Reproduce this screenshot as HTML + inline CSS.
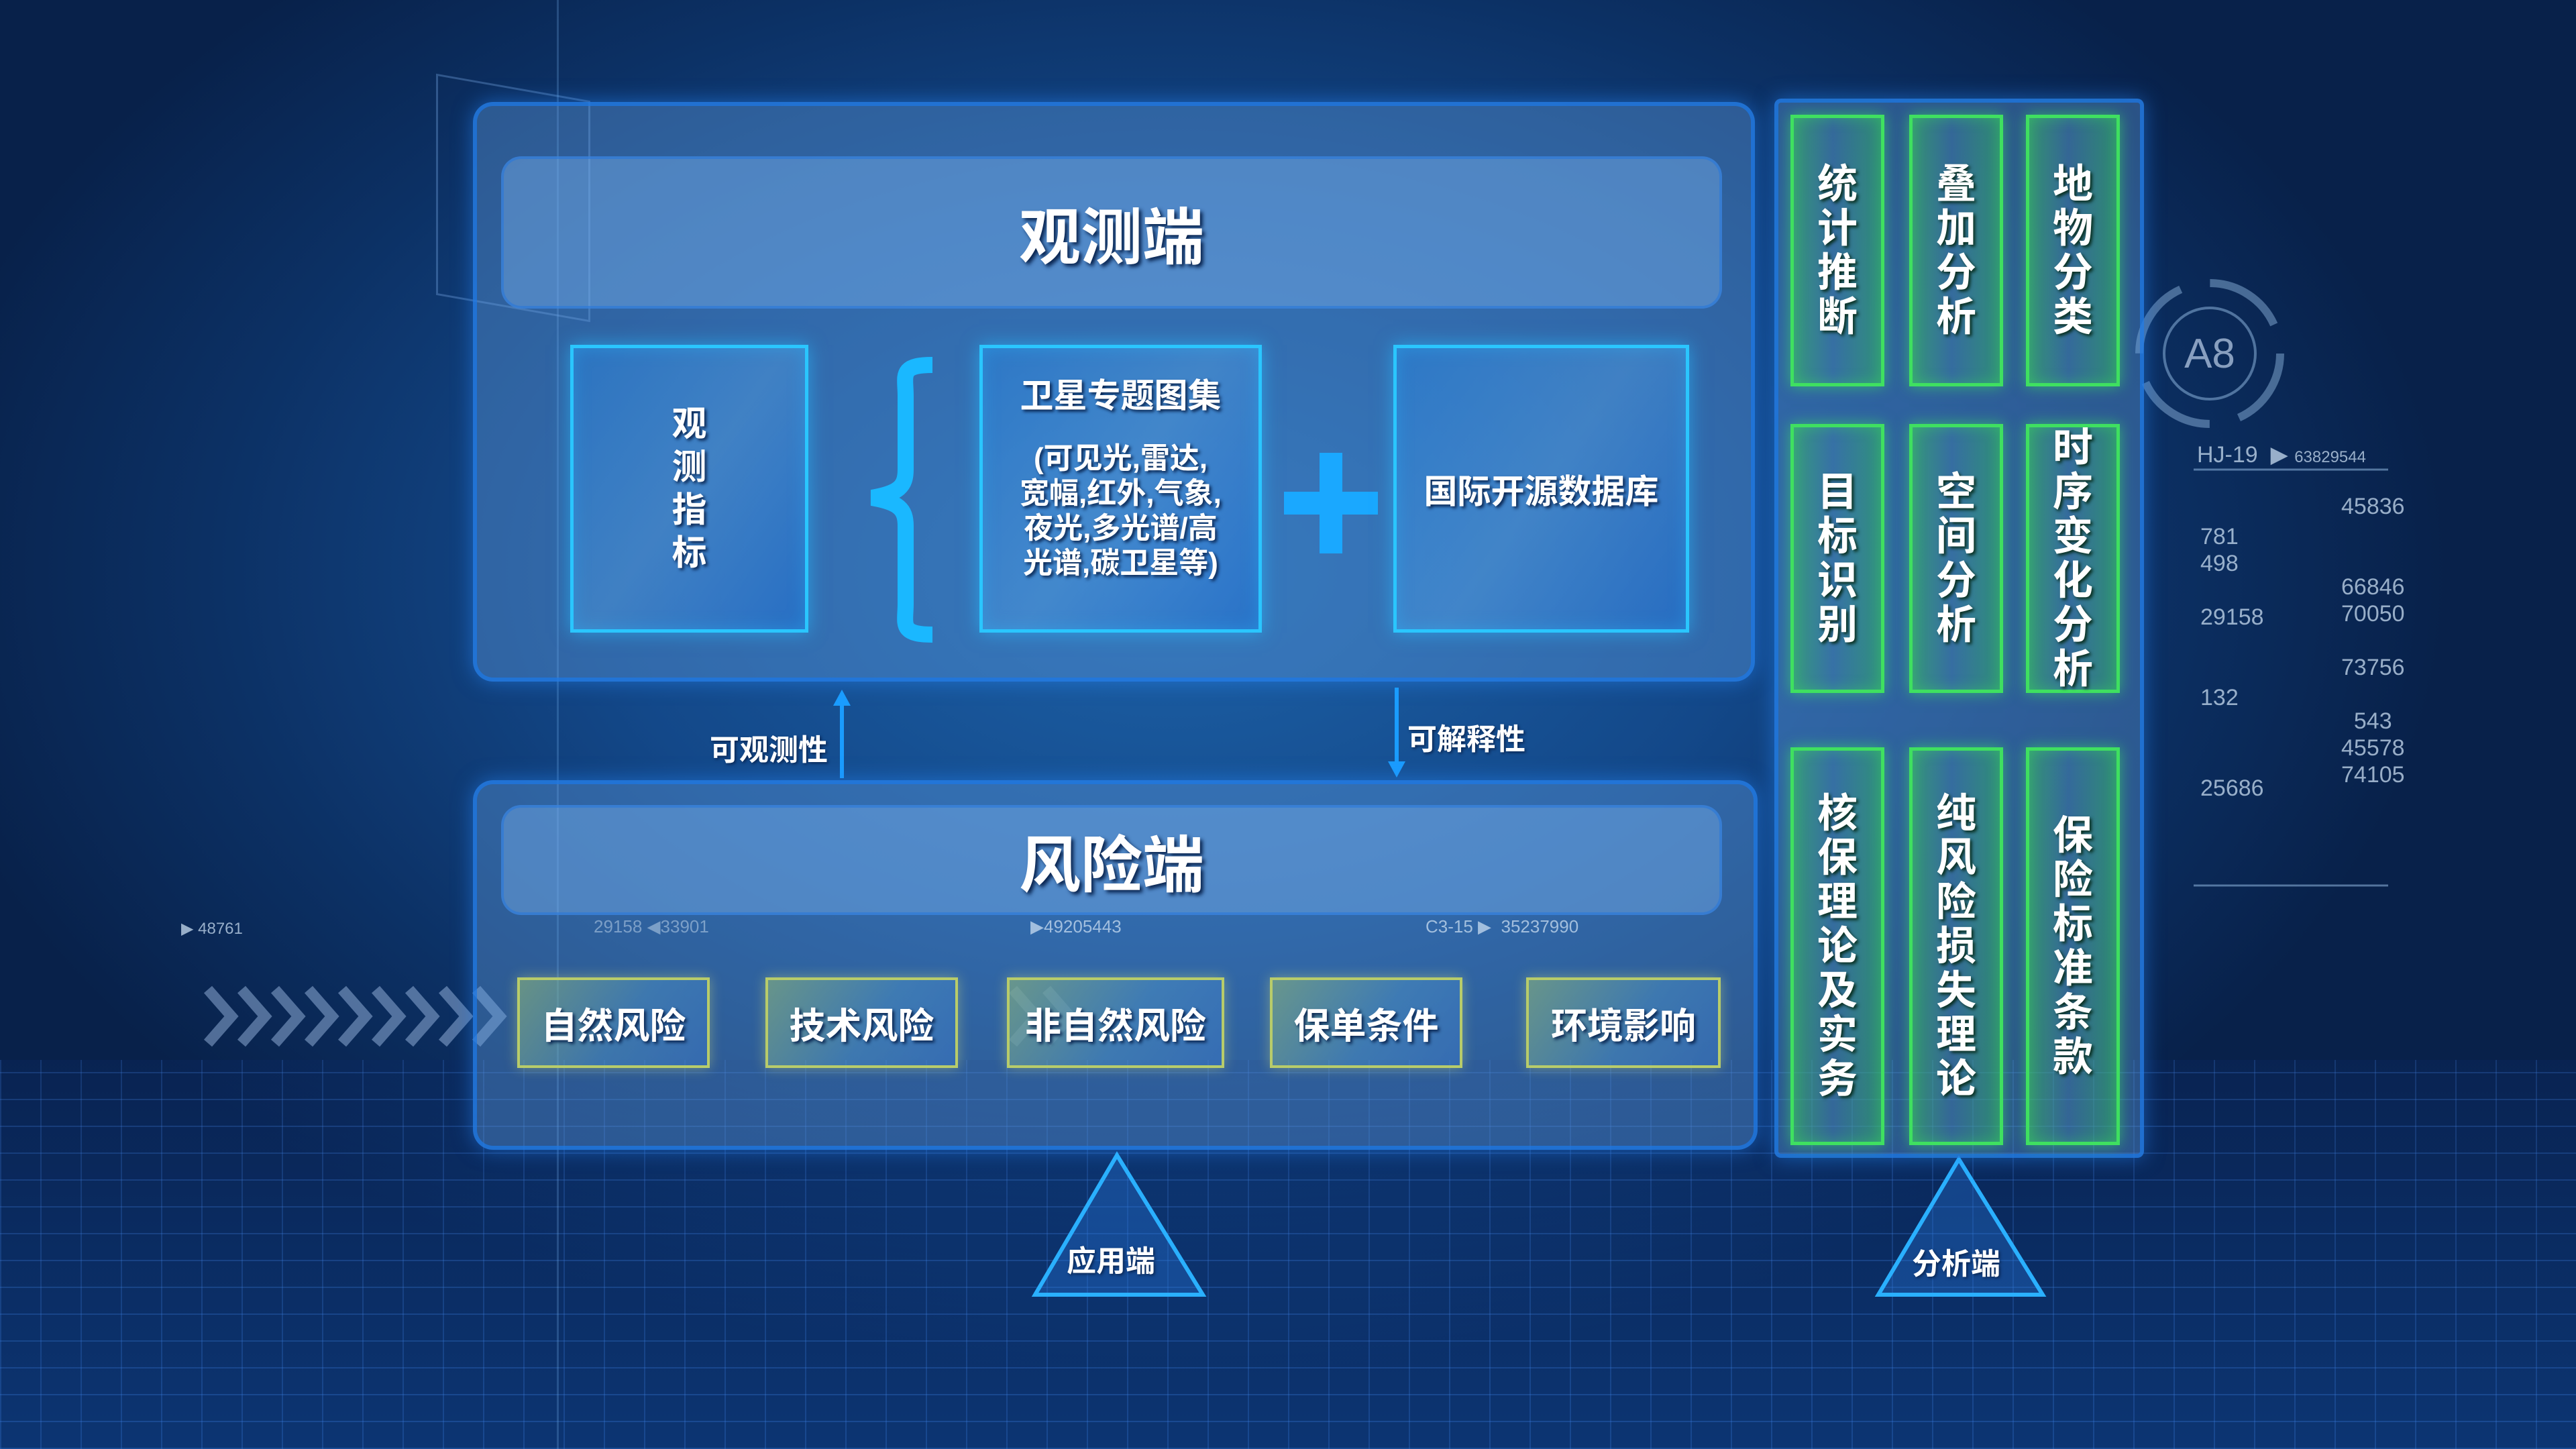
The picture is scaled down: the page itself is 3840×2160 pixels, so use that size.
<!DOCTYPE html>
<html><head><meta charset="utf-8">
<style>
*{margin:0;padding:0;box-sizing:border-box}
body{width:3840px;height:2160px;overflow:hidden;position:relative;font-family:"Liberation Sans","Noto Sans CJK SC",sans-serif;color:#fff;
background:radial-gradient(ellipse 1900px 1200px at 1750px 850px,#1d62a8 0%,#134889 45%,#0c3165 75%,#08214a 100%);}
.abs{position:absolute}
.grid{position:absolute;left:0;top:1580px;width:3840px;height:580px;
background:
linear-gradient(180deg,rgba(10,40,100,.3),rgba(20,90,190,.35)),
repeating-linear-gradient(0deg,rgba(80,150,255,.28) 0 2px,transparent 2px 40px),
repeating-linear-gradient(90deg,rgba(80,150,255,.25) 0 2px,transparent 2px 60px);}
.panel{position:absolute;border:6px solid rgba(30,120,230,.75);border-radius:30px;background:rgba(100,160,225,.38);box-shadow:0 0 30px rgba(40,140,255,.5)}
.bar{position:absolute;border-radius:30px;background:rgba(120,175,235,.45);border:4px solid rgba(40,120,220,.6);display:flex;align-items:center;justify-content:center;font-weight:bold;font-size:92px;text-shadow:4px 4px 6px #0a2550}
.card{position:absolute;border:5px solid #2ac6ff;background:linear-gradient(125deg,rgba(40,130,220,.5) 0%,rgba(90,170,240,.35) 50%,rgba(30,110,210,.55) 100%);box-shadow:0 0 25px rgba(40,190,255,.6),inset 0 0 25px rgba(40,190,255,.35);display:flex;align-items:center;justify-content:center;font-weight:bold;text-align:center;text-shadow:3px 3px 5px #0a2550}
.risk{position:absolute;top:1457px;height:135px;border:4px solid #b8cc6a;background:linear-gradient(125deg,rgba(150,190,120,.55),rgba(80,150,200,.45) 55%,rgba(60,120,200,.5));box-shadow:0 0 18px rgba(220,230,120,.4);display:flex;align-items:center;justify-content:center;font-weight:bold;font-size:54px;text-shadow:3px 3px 5px #0a2550}
.g{position:absolute;width:140px;border:5px solid #3fe060;background:linear-gradient(90deg,rgba(60,200,90,.5),rgba(70,140,170,.3) 45%,rgba(50,190,90,.5));box-shadow:0 0 20px rgba(60,240,90,.55),inset 0 0 20px rgba(60,240,90,.35);display:flex;justify-content:center;align-items:center;font-weight:bold;font-size:60px;line-height:66px;text-align:center;text-shadow:3px 3px 5px #0a3020}
.lbl{position:absolute;font-weight:bold;font-size:44px;text-shadow:2px 2px 4px #0a2550}
.num{position:absolute;font-family:"Liberation Sans",sans-serif;font-size:34px;color:rgba(200,220,240,.75)}
</style></head><body>
<div class="grid"></div>
<div class="abs" style="left:650px;top:130px;width:230px;height:330px;border:3px solid rgba(120,170,230,.35);transform:skewY(10deg)"></div>
<div class="abs" style="left:830px;top:0;width:3px;height:2160px;background:rgba(120,180,240,.25)"></div>
<svg class="abs" style="left:300px;top:1465px" width="1500" height="100">
<g fill="none" stroke="rgba(170,200,240,.45)" stroke-width="16">
<path d="M10,10 L45,50 L10,90"/><path d="M60,10 L95,50 L60,90"/><path d="M110,10 L145,50 L110,90"/><path d="M160,10 L195,50 L160,90"/><path d="M210,10 L245,50 L210,90"/><path d="M260,10 L295,50 L260,90"/><path d="M310,10 L345,50 L310,90"/><path d="M360,10 L395,50 L360,90"/><path d="M410,10 L445,50 L410,90"/>
<path d="M1210,10 L1245,50 L1210,90" stroke="rgba(170,200,240,.25)"/><path d="M1260,10 L1295,50 L1260,90" stroke="rgba(170,200,240,.25)"/>
</g></svg>

<div class="panel" style="left:705px;top:152px;width:1911px;height:864px"></div>
<div class="bar" style="left:747px;top:233px;width:1820px;height:227px">观测端</div>
<div class="card" style="left:850px;top:514px;width:355px;height:429px;font-size:52px;line-height:64px">观<br>测<br>指<br>标</div>
<svg class="abs" style="left:1270px;top:530px" width="140" height="430">
<path d="M120,14 C70,14 80,30 80,60 L80,170 C80,195 70,205 30,212 C70,219 80,229 80,254 L80,370 C80,400 70,416 120,416" fill="none" stroke="#1ab8ff" stroke-width="24"/>
</svg>
<div class="card" style="left:1460px;top:514px;width:421px;height:429px;flex-direction:column;font-size:44px;line-height:52px;justify-content:flex-start;padding-top:45px">
<div style="font-size:50px;margin-bottom:42px">卫星专题图集</div>
<div>(可见光,雷达,<br>宽幅,红外,气象,<br>夜光,多光谱/高<br>光谱,碳卫星等)</div></div>
<div class="abs" style="left:1914px;top:733px;width:140px;height:34px;background:#1aa8ff"></div>
<div class="abs" style="left:1967px;top:675px;width:34px;height:150px;background:#1aa8ff"></div>
<div class="card" style="left:2077px;top:514px;width:441px;height:429px;font-size:50px">国际开源数据库</div>

<div class="abs" style="left:1252px;top:1040px;width:6px;height:120px;background:#1a9cff"></div>
<div class="abs" style="left:1242px;top:1028px;border-left:13px solid transparent;border-right:13px solid transparent;border-bottom:24px solid #1a9cff"></div>
<div class="lbl" style="left:1058px;top:1082px">可观测性</div>
<div class="abs" style="left:2079px;top:1025px;width:6px;height:118px;background:#1a9cff"></div>
<div class="abs" style="left:2069px;top:1135px;border-left:13px solid transparent;border-right:13px solid transparent;border-top:24px solid #1a9cff"></div>
<div class="lbl" style="left:2098px;top:1066px">可解释性</div>

<div class="panel" style="left:705px;top:1163px;width:1915px;height:551px"></div>
<div class="bar" style="left:747px;top:1200px;width:1820px;height:164px">风险端</div>
<div class="num" style="left:1536px;top:1366px;font-size:26px">▶49205443</div>
<div class="num" style="left:2125px;top:1366px;font-size:26px">C3-15 ▶ &nbsp;35237990</div>
<div class="num" style="left:885px;top:1366px;font-size:26px;color:rgba(200,220,240,.5)">29158 ◀33901</div>
<div class="risk" style="left:771px;width:287px">自然风险</div>
<div class="risk" style="left:1141px;width:287px">技术风险</div>
<div class="risk" style="left:1501px;width:324px">非自然风险</div>
<div class="risk" style="left:1893px;width:287px">保单条件</div>
<div class="risk" style="left:2275px;width:290px">环境影响</div>

<svg class="abs" style="left:0;top:0" width="3840" height="2160">
<polygon points="1665,1722 1543,1930 1793,1930" fill="rgba(40,120,220,.35)" stroke="#2ab0ff" stroke-width="6"/>
<polygon points="2920,1728 2800,1930 3045,1930" fill="rgba(40,120,220,.35)" stroke="#2ab0ff" stroke-width="6"/>
<circle cx="3294" cy="527" r="68" fill="none" stroke="rgba(150,190,230,.5)" stroke-width="4"/>
<circle cx="3294" cy="527" r="105" fill="none" stroke="rgba(150,190,230,.45)" stroke-width="12" stroke-dasharray="120 45"/>
<text x="3294" y="548" fill="rgba(190,210,235,.7)" font-size="62" text-anchor="middle" font-family="Liberation Sans">A8</text>
<line x1="3270" y1="700" x2="3560" y2="700" stroke="rgba(160,200,240,.5)" stroke-width="3"/>
<line x1="3270" y1="1320" x2="3560" y2="1320" stroke="rgba(160,200,240,.5)" stroke-width="3"/>
</svg>
<div class="lbl" style="left:1590px;top:1844px;font-size:44px">应用端</div>
<div class="lbl" style="left:2850px;top:1848px;font-size:44px">分析端</div>

<div class="panel" style="left:2645px;top:147px;width:551px;height:1579px;border-radius:10px"></div>
<div class="g" style="left:2669px;top:171px;height:405px">统<br>计<br>推<br>断</div>
<div class="g" style="left:2846px;top:171px;height:405px">叠<br>加<br>分<br>析</div>
<div class="g" style="left:3020px;top:171px;height:405px">地<br>物<br>分<br>类</div>
<div class="g" style="left:2669px;top:632px;height:401px">目<br>标<br>识<br>别</div>
<div class="g" style="left:2846px;top:632px;height:401px">空<br>间<br>分<br>析</div>
<div class="g" style="left:3020px;top:632px;height:401px">时<br>序<br>变<br>化<br>分<br>析</div>
<div class="g" style="left:2669px;top:1114px;height:593px">核<br>保<br>理<br>论<br>及<br>实<br>务</div>
<div class="g" style="left:2846px;top:1114px;height:593px">纯<br>风<br>险<br>损<br>失<br>理<br>论</div>
<div class="g" style="left:3020px;top:1114px;height:593px">保<br>险<br>标<br>准<br>条<br>款</div>

<div class="num" style="left:3275px;top:658px">HJ-19 &nbsp;▶ <span style="font-size:24px">63829544</span></div>
<div class="num" style="left:3280px;top:780px;line-height:40px">781<br>498<br><br>29158<br><br><br>132</div>
<div class="num" style="left:3490px;top:735px;line-height:40px">45836<br><br><br>66846<br>70050<br><br>73756<br><br>&nbsp;&nbsp;543<br>45578<br>74105</div>
<div class="num" style="left:3280px;top:1156px">25686</div>
<div class="num" style="left:270px;top:1370px;font-size:24px">▶ 48761</div>
</body></html>
